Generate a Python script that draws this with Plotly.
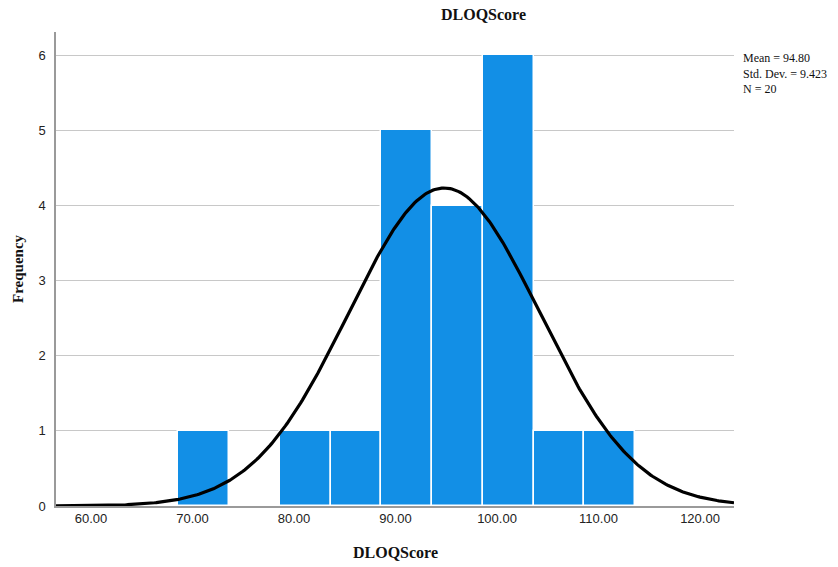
import numpy as np
import plotly.graph_objects as go

bin_edges = [68.6, 73.6, 78.6, 83.6, 88.6, 93.6, 98.6, 103.6, 108.6, 113.6]
counts = [1, 0, 1, 1, 5, 4, 6, 1, 1]
mean_val = 94.80
std_val = 9.423
n_val = 20
x_ticks = [60, 70, 80, 90, 100, 110, 120]
x_tick_labels = ["60.00", "70.00", "80.00", "90.00", "100.00", "110.00", "120.00"]
y_ticks = [0, 1, 2, 3, 4, 5, 6]

x_range = [56.55, 123.35]
bin_w = bin_edges[1] - bin_edges[0]
centers = [(bin_edges[i] + bin_edges[i + 1]) / 2 for i in range(len(counts))]

xs = np.linspace(x_range[0], x_range[1], 400)
ys = n_val * bin_w / (std_val * np.sqrt(2 * np.pi)) * np.exp(-0.5 * ((xs - mean_val) / std_val) ** 2)

serif = "Liberation Serif, Times New Roman"

fig = go.Figure()
fig.add_trace(go.Bar(
    x=centers, y=counts, width=bin_w,
    marker=dict(color="#128fe6", line=dict(color="white", width=1.5)),
    hoverinfo="skip",
))
fig.add_trace(go.Scatter(
    x=xs, y=ys, mode="lines",
    line=dict(color="black", width=3.2),
    hoverinfo="skip",
))

fig.update_layout(
    width=838, height=567,
    margin=dict(l=56, r=104, t=32, b=61, autoexpand=False),
    plot_bgcolor="white", paper_bgcolor="white",
    showlegend=False, bargap=0,
    font=dict(family="Liberation Sans, Arial", color="#222222", size=13),
    annotations=[
        dict(text="<b>DLOQScore</b>", x=0.631, y=1, xref="paper", yref="paper",
             yanchor="bottom", yshift=7, showarrow=False,
             font=dict(family=serif, size=16, color="#111111")),
        dict(text="Mean = 94.80<br>Std. Dev. = 9.423<br>N = 20", x=1, y=1, xref="paper", yref="paper",
             xanchor="left", yanchor="top", xshift=7, yshift=-17, align="left", showarrow=False,
             font=dict(family=serif, size=12, color="#111111")),
        dict(text="<b>DLOQScore</b>", x=0.5, y=0, xref="paper", yref="paper",
             yanchor="top", yshift=-36, showarrow=False,
             font=dict(family=serif, size=16, color="#111111")),
        dict(text="<b>Frequency</b>", x=0, y=0.5, xref="paper", yref="paper",
             xanchor="center", xshift=-38, textangle=-90, showarrow=False,
             font=dict(family=serif, size=15, color="#111111")),
    ],
)
fig.update_xaxes(
    range=x_range, tickvals=x_ticks, ticktext=x_tick_labels,
    showgrid=False, showline=True, linecolor="#9a9a9a", linewidth=1.5,
    ticks="", zeroline=False, automargin=False,
)
fig.update_yaxes(
    range=[0, 6.31], tickvals=y_ticks,
    showgrid=True, gridcolor="#c8c8c8", gridwidth=1,
    showline=True, linecolor="#9a9a9a", linewidth=1.5,
    ticks="", zeroline=False, ticklabelstandoff=6, automargin=False,
)

fig.write_html("out.html")
